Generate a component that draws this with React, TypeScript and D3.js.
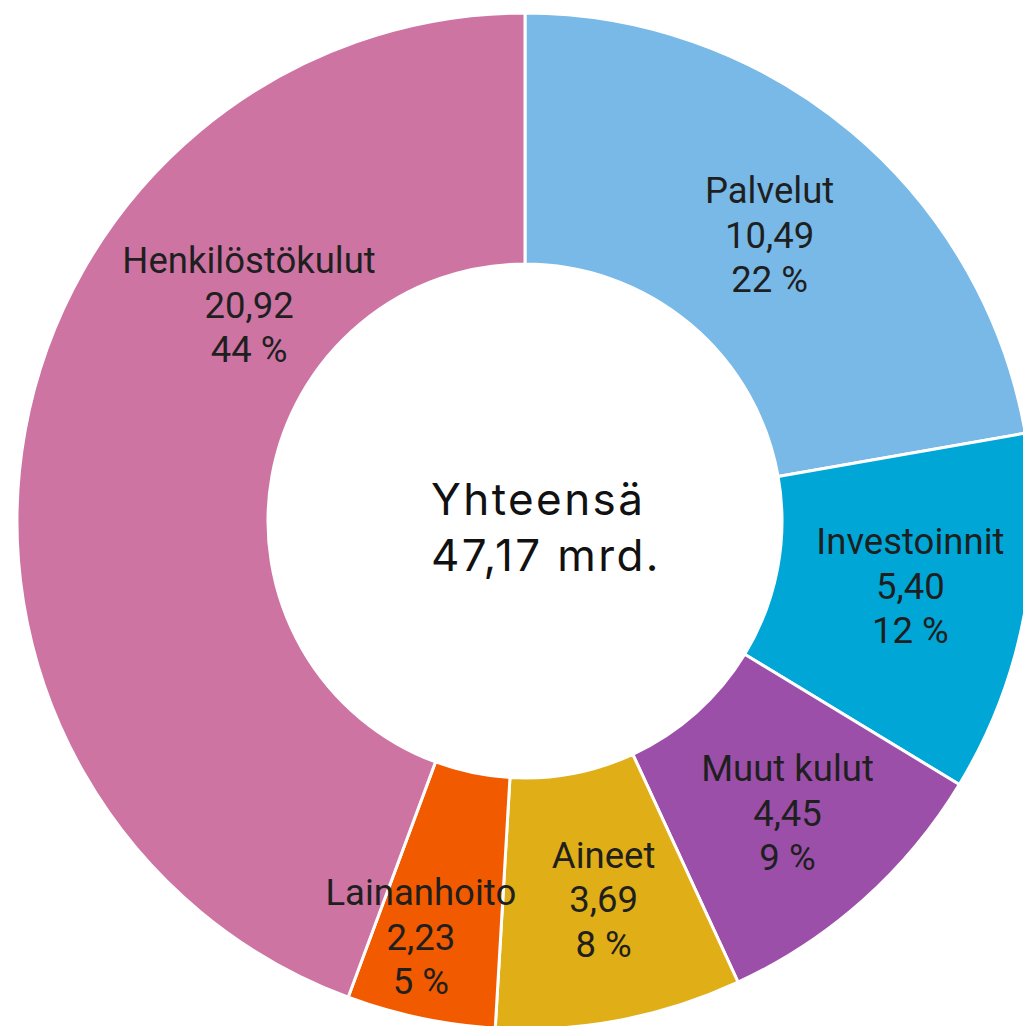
import { useEffect, useRef } from 'react'
import * as d3 from 'd3'

const categories = ['Palvelut', 'Investoinnit', 'Muut kulut', 'Aineet', 'Lainanhoito', 'Henkilöstökulut']
const amounts = [10.49, 5.40, 4.45, 3.69, 2.23, 20.92]
const shares = ['22 %', '12 %', '9 %', '8 %', '5 %', '44 %']
const colors = ['#78b9e7', '#00a6d6', '#9c4fa9', '#e0ae16', '#f25a00', '#cd74a3']
const totalLines = ['Yhteensä', '47,17 mrd.']

const width = 1023
const height = 1026

export default function App() {
  const svgRef = useRef<SVGSVGElement>(null)

  useEffect(() => {
    if (!svgRef.current) return
    const svg = d3.select(svgRef.current)
    svg.selectAll('*').remove()

    const cx = 525
    const cy = 521
    const outerR = 508
    const innerR = 257

    const data = categories.map((name, i) => ({ name, value: amounts[i], share: shares[i], color: colors[i] }))

    const pie = d3.pie<any>().sort(null).value(d => d.value)
    const arc = d3.arc<any>().innerRadius(innerR).outerRadius(outerR)
    const labelArc = d3.arc<any>().innerRadius(385).outerRadius(385)

    const g = svg.append('g').attr('transform', `translate(${cx},${cy})`)
    const arcs = pie(data)

    g.selectAll('path')
      .data(arcs)
      .enter()
      .append('path')
      .attr('d', arc)
      .attr('fill', d => d.data.color)
      .attr('stroke', '#fff')
      .attr('stroke-width', 3)

    // some labels are moved off the centroid, like in the original
    const nudge: Record<string, [number, number]> = {
      'Henkilöstökulut': [103, -148],
      'Lainanhoito': [-25, 39],
      'Investoinnit': [7, -6],
      'Aineet': [7, 0],
      'Muut kulut': [6, 5],
      'Palvelut': [-3, 9]
    }

    const labels = g.selectAll('g.label')
      .data(arcs)
      .enter()
      .append('g')
      .attr('class', 'label')
      .attr('transform', d => {
        const [x, y] = labelArc.centroid(d)
        const [nx, ny] = nudge[d.data.name] || [0, 0]
        return `translate(${x + nx},${y + ny})`
      })

    labels.each(function(d) {
      const lines = [d.data.name, d3.format('.2f')(d.data.value).replace('.', ','), d.data.share]
      d3.select(this).selectAll('text')
        .data(lines)
        .enter()
        .append('text')
        .attr('x', 0)
        .attr('y', (_, i) => (i - 1) * 44.5)
        .attr('dy', '0.35em')
        .attr('text-anchor', 'middle')
        .attr('font-family', 'Roboto, sans-serif')
        .attr('font-size', 36.5)
        .attr('fill', '#1f1f1f')
        .text(t => t)
    })

    svg.append('g')
      .selectAll('text')
      .data(totalLines)
      .enter()
      .append('text')
      .attr('x', 431)
      .attr('y', (_, i) => 500 + i * 56)
      .attr('dy', '0.35em')
      .attr('font-family', 'Inter, sans-serif')
      .attr('font-size', 44)
      .attr('letter-spacing', 2.4)
      .attr('fill', '#111')
      .text(t => t)
  }, [])

  return (
    <svg
      ref={svgRef}
      width={width}
      height={height}
      style={{ position: 'absolute', left: 0, top: 0, background: '#fff' }}
    />
  )
}
